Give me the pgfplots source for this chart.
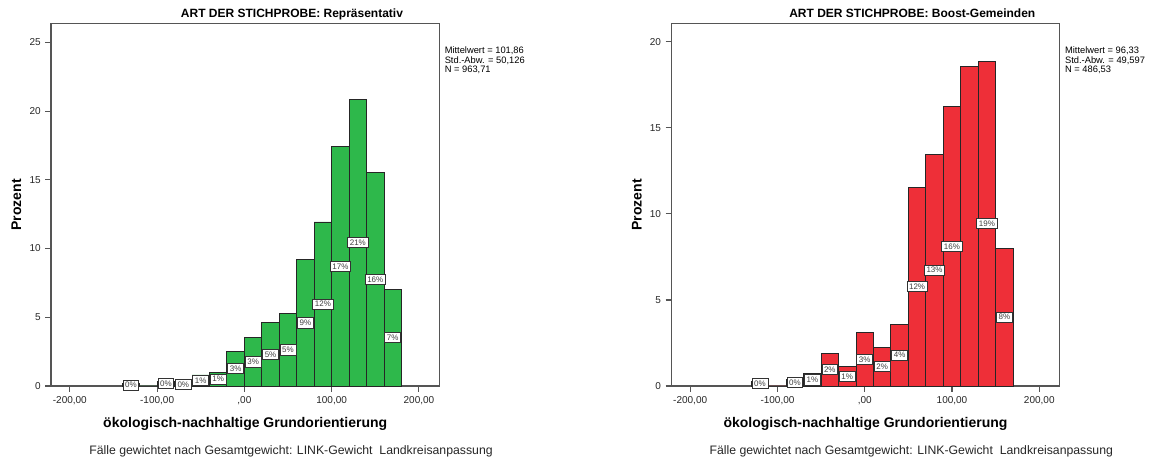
\documentclass[border=0pt]{standalone}
\usepackage{fontspec}
\setmainfont{Liberation Sans}
\usepackage{pgfplots}
\pgfplotsset{compat=1.18}

\definecolor{spssgreen}{HTML}{2EB84B}
\definecolor{spssred}{HTML}{EE2F38}
\definecolor{framegray}{HTML}{555555}

\pgfplotsset{
	histo/.style={
		scale only axis,
		width=291.2pt, height=272pt,
		xmin=-221.6, xmax=223.3, ymin=0,
		clip=false,
		axis line style={framegray, line width=0.9pt},
		xtick={-200,-100,0,100,200},
		xticklabels={{-200,00},{-100,00},{,00},{100,00},{200,00}},
		xtick pos=left, ytick pos=left,
		tick align=outside,
		major tick length=4.2pt,
		tick style={framegray, line width=0.8pt},
		ticklabel style={font=\fontsize{7.5}{9}\selectfont, text=black!85},
		/pgf/number format/assume math mode=true,
	},
	% the small white percent boxes in the middle of each bar
	pctlbl/.style={
		draw=none, mark=none,
		nodes near coords,
		point meta=explicit symbolic,
		every node near coord/.style={
			anchor=center, fill=white, draw=black!80, line width=0.55pt,
			font=\fontsize{6}{7}\selectfont, text=black!75,
			inner xsep=1.6pt, inner ysep=1.7pt,
		},
	},
}

\begin{document}
\begin{tikzpicture}
	% frame of the whole picture, in pixels of the reference
	\begin{scope}[x=0.75pt, y=0.75pt]
		\path[use as bounding box] (0,0) rectangle (1160,463);
	\end{scope}

	% ---------- left: Repräsentativ ----------
	\begin{axis}[histo, at={(38.25pt,57.75pt)}, anchor=south west,
		ymax=26.38, ytick={0,5,...,25}]
		\addplot[ybar interval, fill=spssgreen, draw=black!85, line width=0.7pt] coordinates {
			(-140,0.15) (-120,0) (-100,0.35) (-80,0.25) (-60,0.8) (-40,1.0)
			(-20,2.54) (0,3.50) (20,4.61) (40,5.27) (60,9.18) (80,11.93)
			(100,17.39) (120,20.85) (140,15.51) (160,7.05) (180,0)
		};
		\addplot[pctlbl] coordinates {
			(-130,0.07) [0\%]
			(-90,0.17) [0\%]
			(-70,0.12) [0\%]
			(-50,0.4) [1\%]
			(-30,0.5) [1\%]
			(-10,1.27) [3\%]
			(10,1.75) [3\%]
			(30,2.3) [5\%]
			(50,2.63) [5\%]
			(70,4.59) [9\%]
			(90,5.96) [12\%]
			(110,8.69) [17\%]
			(130,10.42) [21\%]
			(150,7.75) [16\%]
			(170,3.52) [7\%]
		};
	\end{axis}

	% ---------- right: Boost-Gemeinden ----------
	\begin{axis}[histo, at={(503.5pt,57.75pt)}, anchor=south west,
		ymax=21.08, ytick={0,5,...,20}]
		\addplot[ybar interval, fill=spssred, draw=black!85, line width=0.7pt] coordinates {
			(-130,0.27) (-110,0) (-90,0.39) (-70,0.71) (-50,1.91) (-30,1.12)
			(-10,3.09) (10,2.26) (30,3.59) (50,11.56) (70,13.47) (90,16.25)
			(110,18.57) (130,18.86) (150,8.01) (170,0)
		};
		\addplot[pctlbl] coordinates {
			(-120,0.13) [0\%]
			(-80,0.2) [0\%]
			(-60,0.36) [1\%]
			(-40,0.95) [2\%]
			(-20,0.56) [1\%]
			(0,1.55) [3\%]
			(20,1.13) [2\%]
			(40,1.8) [4\%]
			(60,5.78) [12\%]
			(80,6.73) [13\%]
			(100,8.12) [16\%]
			(140,9.43) [19\%]
			(160,4.0) [8\%]
		};
	\end{axis}

	% ---------- texts around the two panels ----------
	\begin{scope}[x=0.75pt, y=0.75pt]
		\foreach \bx/\ttl/\mw/\sd/\nn in {
			51/Repräsentativ/{101,86}/{50,126}/{963,71},
			671.3/Boost-Gemeinden/{96,33}/{49,597}/{486,53}} {
			\node[anchor=base, font=\bfseries\fontsize{9}{10}\selectfont]
				at (\bx+241,445.3) {ART DER STICHPROBE: \ttl};
			\node[anchor=base west, font=\fontsize{7}{7.5}\selectfont, inner sep=0pt]
				at (\bx+393.5,409.7) {Mittelwert = \mw};
			\node[anchor=base west, font=\fontsize{7}{7.5}\selectfont, inner sep=0pt]
				at (\bx+393.5,399.9) {Std.-Abw. = \sd};
			\node[anchor=base west, font=\fontsize{7}{7.5}\selectfont, inner sep=0pt]
				at (\bx+393.5,390.1) {N = \nn};
			\node[anchor=base, font=\bfseries\fontsize{10.5}{12}\selectfont]
				at (\bx+194.2,35) {ökologisch-nachhaltige Grundorientierung};
			\node[anchor=center, rotate=90, font=\bfseries\fontsize{10.5}{12}\selectfont]
				at (\bx-34.5,258.3) {Prozent};
			\node[anchor=base, font=\fontsize{9.2}{11}\selectfont, text=black!85]
				at (\bx+240,8) {Fälle gewichtet nach Gesamtgewicht: LINK-Gewicht\ \ Landkreisanpassung};
		}
	\end{scope}
\end{tikzpicture}
\end{document}
